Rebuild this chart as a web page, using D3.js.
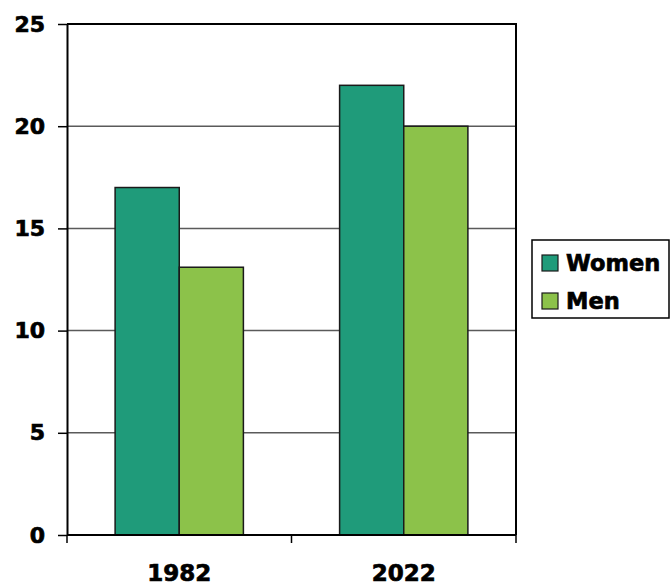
<!DOCTYPE html>
<html>
<head>
<meta charset="utf-8">
<script src="https://cdn.jsdelivr.net/npm/d3@7"></script>
<style>
  html, body { margin: 0; padding: 0; background: #fff; }
  svg { display: block; }
  text { font-family: "DejaVu Sans", Verdana, sans-serif; font-weight: bold; fill: #000; }
</style>
</head>
<body>
<svg id="chart" width="670" height="586"></svg>
<script>
// Chart data
const years = ["1982", "2022"];
const seriesNames = ["Women", "Men"];
const womenValues = [17, 22];
const menValues = [13.1, 20];
const yTicks = [0, 5, 10, 15, 20, 25];
const colors = ["#1f9b7a", "#8cc24a"];

const rows = years.map((y, i) => ({ year: y, values: [womenValues[i], menValues[i]] }));

const svg = d3.select("#chart");
const margin = { left: 67, right: 154, top: 24, bottom: 51 };
const W = 670, H = 586;
const x0 = margin.left, x1 = W - margin.right;
const yTop = margin.top, yBot = H - margin.bottom;

const x = d3.scaleBand().domain(years).range([x0, x1]).padding(0);
const xs = d3.scaleBand().domain(seriesNames).range([0, x.bandwidth()])
  .paddingInner(0).paddingOuter(0.75);
const y = d3.scaleLinear().domain([0, 25]).range([yBot, yTop]);

// Bold labels drawn slightly heavier
const heavy = sel => sel.attr("stroke", "#000").attr("stroke-width", 0.7)
  .attr("paint-order", "stroke").attr("font-weight", "bold").attr("fill", "#000")
  .attr("font-family", "DejaVu Sans, Verdana, sans-serif");

// Horizontal gridlines
svg.append("g")
  .selectAll("line")
  .data(yTicks.filter(t => t > 0 && t < 25))
  .join("line")
  .attr("x1", x0).attr("x2", x1)
  .attr("y1", d => y(d)).attr("y2", d => y(d))
  .attr("stroke", "#5a5a5a").attr("stroke-width", 1.5);

// Plot frame: top and right edges
svg.append("path")
  .attr("d", `M${x0},${y(25)}H${x1}V${yBot}`)
  .attr("fill", "none").attr("stroke", "#000").attr("stroke-width", 2);

// Bars
const groups = svg.append("g").selectAll("g")
  .data(rows).join("g")
  .attr("transform", d => `translate(${x(d.year)},0)`);
groups.selectAll("rect")
  .data(d => d.values.map((v, i) => ({ name: seriesNames[i], v, i })))
  .join("rect")
  .attr("x", d => xs(d.name))
  .attr("width", xs.bandwidth())
  .attr("y", d => y(d.v))
  .attr("height", d => yBot - y(d.v))
  .attr("fill", d => colors[d.i])
  .attr("stroke", "#1a1a1a").attr("stroke-width", 1.5);

// Y axis
const yAxis = svg.append("g")
  .attr("transform", `translate(${x0},0)`)
  .call(d3.axisLeft(y).tickValues(yTicks).tickSize(9).tickPadding(13).tickSizeOuter(0));
yAxis.select(".domain").attr("stroke", "#000").attr("stroke-width", 2);
yAxis.selectAll(".tick line").attr("stroke", "#000").attr("stroke-width", 1.5);
yAxis.selectAll(".tick text").attr("font-size", "22px").call(heavy);

// X axis: category labels centered, tick marks at band edges
const xAxisG = svg.append("g").attr("transform", `translate(0,${yBot})`);
xAxisG.append("line")
  .attr("x1", x0).attr("x2", x1).attr("y1", 0).attr("y2", 0)
  .attr("stroke", "#000").attr("stroke-width", 2);
const edges = years.map(d => x(d)).concat([x1]);
xAxisG.selectAll("line.edge")
  .data(edges).join("line").attr("class", "edge")
  .attr("x1", d => d).attr("x2", d => d)
  .attr("y1", 0).attr("y2", 8)
  .attr("stroke", "#000").attr("stroke-width", 1.5);
xAxisG.selectAll("text")
  .data(years).join("text")
  .attr("x", d => x(d) + x.bandwidth() / 2)
  .attr("y", 46)
  .attr("text-anchor", "middle")
  .attr("font-size", "23px")
  .text(d => d)
  .call(heavy);

// Legend
const legend = svg.append("g").attr("transform", "translate(532,240)");
legend.append("rect")
  .attr("x", 0).attr("y", 0).attr("width", 137).attr("height", 78)
  .attr("fill", "#fff").attr("stroke", "#000").attr("stroke-width", 1.5);
const items = legend.selectAll("g.item")
  .data(seriesNames).join("g").attr("class", "item")
  .attr("transform", (d, i) => `translate(0,${i * 38})`);
items.append("rect")
  .attr("x", 10).attr("y", 15).attr("width", 16).attr("height", 16)
  .attr("fill", (d, i) => colors[i])
  .attr("stroke", "#1a1a1a").attr("stroke-width", 1.2);
items.append("text")
  .attr("x", 34).attr("y", 30.5)
  .attr("font-size", "22.5px")
  .text(d => d)
  .call(heavy);
</script>
</body>
</html>
